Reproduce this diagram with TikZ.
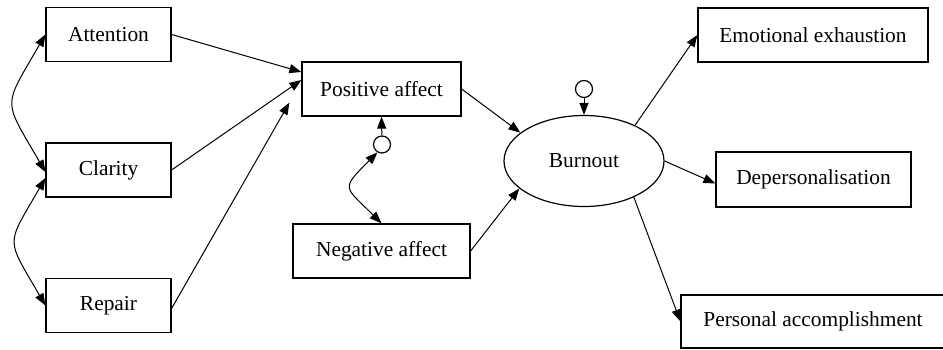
\documentclass[tikz,border=0pt]{standalone}
\usepackage{fontspec}
\setmainfont{Liberation Serif}
\usetikzlibrary{arrows.meta,shapes.geometric}
\begin{document}
\begin{tikzpicture}[x=1pt,y=-1pt,line width=1pt,>={Triangle[length=12pt,width=9pt]},
  box/.style={draw,rectangle,line width=1.2pt,minimum height=54pt,inner sep=0pt,font=\fontsize{21.4}{24}\selectfont},
  latent/.style={draw,ellipse,line width=1.2pt,minimum width=160pt,minimum height=91pt,inner sep=0pt,font=\fontsize{21.4}{24}\selectfont},
  err/.style={draw,circle,line width=1.2pt,minimum size=17pt,inner sep=0pt}]
\useasboundingbox (0,0) rectangle (943,350);
\node[box,minimum width=125pt] (att) at (108.5,34.5) {Attention};
\node[box,minimum width=125pt] (clar) at (108.5,170) {Clarity};
\node[box,minimum width=125pt] (rep) at (108.5,305.5) {Repair};
\node[box,minimum width=159pt] (pos) at (381.5,89) {Positive affect};
\node[box,minimum width=177pt] (neg) at (381.5,251) {Negative affect};
\node[err] (e1) at (382,144.5) {};
\node[latent] (burn) at (584,161) {Burnout};
\node[err] (e2) at (584,89) {};
\node[box,minimum width=230pt] (ee) at (813,35) {Emotional exhaustion};
\node[box,minimum width=195pt,minimum height=55pt] (dp) at (813.5,179.5) {Depersonalisation};
\node[box,minimum width=264pt,minimum height=53pt] (pa) at (813,321.5) {Personal accomplishment};
\draw[<->] (att.west) to[out=240,in=120,looseness=1.6] ([yshift=-2pt]clar.west);
\draw[<->] ([yshift=-8pt]clar.west) to[out=240,in=120,looseness=1.6] (rep.west);
\draw[->] (att.east) -- ([yshift=17pt]pos.west);
\draw[->] (clar.east) -- ([yshift=9pt]pos.west);
\draw[->] ([yshift=-3pt]rep.east) -- ([xshift=-12pt,yshift=14pt]pos.south west);
\draw[->] (e1) -- (pos.south);
\draw[<->] (e1.240) to[out=225,in=135,looseness=1.9] (neg.north);
\draw[->] (pos.east) -- (burn.156);
\draw[->] (neg.east) -- (burn.203);
\draw[->] (e2) -- (burn.north);
\draw[->] (burn.35) -- (ee.west);
\draw[->] (burn.east) -- ([yshift=-4pt]dp.west);
\draw[->] (burn.-36) -- (pa.west);
\end{tikzpicture}
\end{document}
